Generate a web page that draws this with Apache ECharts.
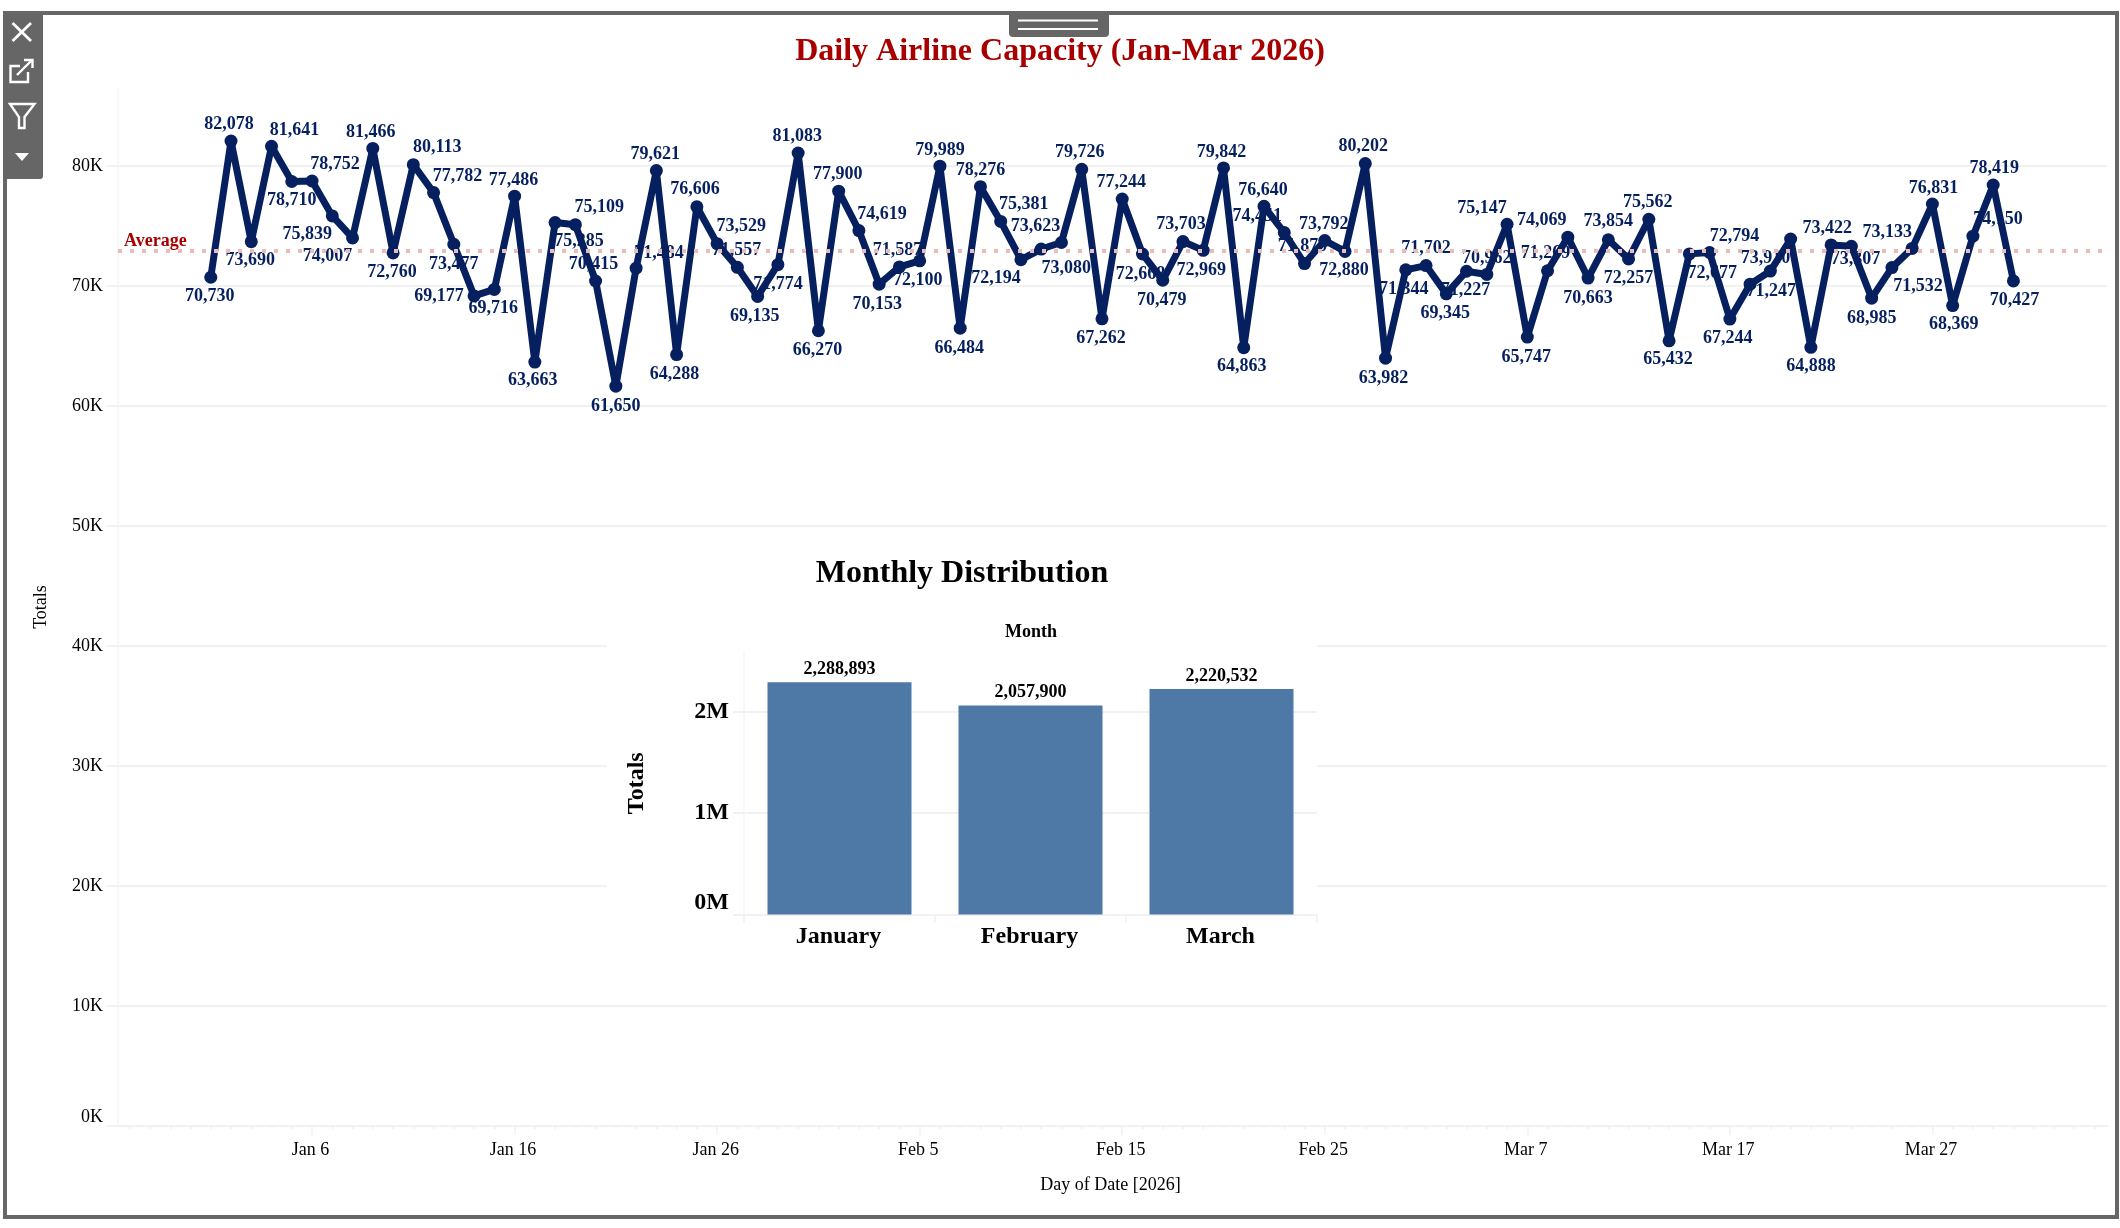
<!DOCTYPE html>
<html>
<head>
<meta charset="utf-8">
<style>html,body{margin:0;padding:0;background:#fff}#c{width:2120px;height:1228px}</style>
<script src="https://cdn.jsdelivr.net/npm/echarts@6/dist/echarts.min.js"></script>
</head>
<body>
<div id="c"></div>
<script>
// ---------- data ----------
const janValues = [70730,82078,73690,81641,78710,78752,75839,74007,81466,72760,80113,77782,73477,69177,69716,77486,63663,75285,75109,70415,61650,71484,79621,64288,76606,73529,71557,69135,71774,81083,66270];
const febValues = [77900,74619,70153,71587,72100,79989,66484,78276,75381,72194,73080,73623,79726,67262,77244,72668,70479,73703,72969,79842,64863,76640,74451,71870,73792,72880,80202,63982];
const marValues = [71344,71702,69345,71227,70962,75147,65747,71269,74069,70663,73854,72257,75562,65432,72677,72794,67244,70150,71247,73910,64888,73422,73307,68985,71532,73133,76831,68369,74150,78419,70427];
const unlabelledDays = ['2026-03-18'];
const monthNames = ['January','February','March'];
const monthTotals = [2288893,2057900,2220532];
const dateTickDays = ['2026-01-06','2026-01-16','2026-01-26','2026-02-05','2026-02-15','2026-02-25','2026-03-07','2026-03-17','2026-03-27'];
const dateTickLabels = ['Jan 6','Jan 16','Jan 26','Feb 5','Feb 15','Feb 25','Mar 7','Mar 17','Mar 27'];
const dailyTicks = [0,10000,20000,30000,40000,50000,60000,70000,80000];
const monthlyTicks = [0,1000000,2000000];

// ---------- layout table: label centre relative to its point, px ----------
const labelOffsets = [
[-1,19],[-2,-17],[-1,19],[23,-16],[0,19],[23,-17],[-25,18],[-25,18],[-2,-16],[-1,19],[24,-17],[24,-16],[0,20],[-35,0],[-1,19],[-1,-16],[-2,18],[24,19],[24,-17],[-2,-17],[0,20],[23,-15],[-1,-16],[-2,20],[-2,-17],[24,-17],[-1,-17],[-3,20],[0,20],[-1,-17],[-1,20],
[-1,-17],[23,-16],[-2,20],[-2,-17],[-2,20],[0,-16],[-1,20],[0,-16],[23,-17],[-25,19],[25,19],[-26,-16],[-2,-17],[-1,19],[-1,-17],[-2,20],[-1,20],[-2,-17],[-2,20],[-2,-16],[-2,19],[-1,-16],[-27,-16],[-2,-17],[-1,-16],[-1,19],[-2,-17],[-2,20],
[-2,19],[0,-17],[-1,19],[-1,19],[0,-16],[-25,-16],[-1,20],[-2,-17],[-26,-17],[0,20],[0,-18],[0,19],[-1,-17],[-1,19],[23,19],[25,-16],[-2,19],[0,0],[1,20],[-25,19],[0,19],[-4,-17],[4,13],[0,20],[26,19],[-25,-16],[1,-16],[1,19],[25,-17],[1,-17],[1,19]
];

// ---------- helpers ----------
const SERIF = '"Liberation Serif","Times New Roman",serif';
const NAVY = '#06205f', RED = '#a80000', GRID = '#f1f1f1';
const DAY = 86400000;
const dayNo = s => (Date.parse(s + 'T00:00:00Z') - Date.UTC(2026,0,1)) / DAY;
const pad = n => String(n).padStart(2,'0');
const seriesOf = (m, vals) => vals.map((v,i) => ['2026-' + pad(m) + '-' + pad(i+1), v]);
const daily = [].concat(seriesOf(1,janValues), seriesOf(2,febValues), seriesOf(3,marValues));
const axisMin = -4.58, axisMax = 93.62;
const dayTicks = [];
for (let t = -4; t <= axisMax; t += 1) dayTicks.push(t);
const majorTicks = dateTickDays.map(dayNo);
const fmt = v => v.toLocaleString('en-US');
const white = '#fff', chrome = '#666666';

const ink = {stroke: white, fill: 'none', lineWidth: 2.4};
const graphics = [
  {type:'rect', z:1, silent:true, shape:{x:607,y:532,width:710,height:420}, style:{fill:white}},
  {type:'rect', z:20, silent:true, shape:{x:5,y:13,width:2112,height:1204}, style:{fill:'none',stroke:chrome,lineWidth:4}},
  {type:'rect', z:21, silent:true, shape:{x:3,y:11,width:40,height:168,r:[0,0,3,0]}, style:{fill:chrome}},
  {type:'rect', z:21, silent:true, shape:{x:1009,y:11,width:100,height:26,r:[0,0,4,4]}, style:{fill:chrome}},
  {type:'line', z:22, silent:true, shape:{x1:1018,y1:20.5,x2:1098,y2:20.5}, style:{stroke:white,lineWidth:2}},
  {type:'line', z:22, silent:true, shape:{x1:1018,y1:29,x2:1098,y2:29}, style:{stroke:white,lineWidth:2}},
  {type:'line', z:22, silent:true, shape:{x1:12.5,y1:23,x2:31,y2:41}, style:{stroke:white,lineWidth:2.8}},
  {type:'line', z:22, silent:true, shape:{x1:31,y1:23,x2:12.5,y2:41}, style:{stroke:white,lineWidth:2.8}},
  {type:'polyline', z:22, silent:true, shape:{points:[[20,66],[10.5,66],[10.5,82],[28,82],[28,72]]}, style:ink},
  {type:'polyline', z:22, silent:true, shape:{points:[[17,75],[32,60]]}, style:ink},
  {type:'polyline', z:22, silent:true, shape:{points:[[24,60],[32.5,60],[32.5,68]]}, style:ink},
  {type:'polygon', z:22, silent:true, shape:{points:[[10,104],[34.5,104],[24.5,117],[24.5,128],[19,128],[19,117]]}, style:ink},
  {type:'polygon', z:22, silent:true, shape:{points:[[15,153],[29,153],[22,161]]}, style:{fill:white}}
];

const chart = echarts.init(document.getElementById('c'), null, {renderer:'canvas', width:2120, height:1228});
chart.setOption({
  animation:false,
  backgroundColor:'#ffffff',
  textStyle:{fontFamily:SERIF},
  title:[
    {text:'Daily Airline Capacity (Jan-Mar 2026)', left:1055, top:47, textAlign:'center', textVerticalAlign:'middle', textStyle:{fontFamily:SERIF,fontSize:32,fontWeight:'bold',color:RED}},
    {text:'Monthly Distribution', left:957, top:569, textAlign:'center', textVerticalAlign:'middle', textStyle:{fontFamily:SERIF,fontSize:32,fontWeight:'bold',color:'#000'}},
    {text:'Month', left:1026, top:627, textAlign:'center', textVerticalAlign:'middle', textStyle:{fontFamily:SERIF,fontSize:18,fontWeight:'bold',color:'#000'}}
  ],
  graphic:{elements:graphics},
  grid:[
    {left:118, right:13, top:88, bottom:102},
    {left:744, right:803, top:652, bottom:313.5}
  ],
  xAxis:[
    {type:'value', gridIndex:0, min:axisMin, max:axisMax, position:'bottom', z:0,
     name:'Day of Date [2026]', nameLocation:'middle', nameGap:50,
     nameTextStyle:{fontFamily:SERIF,fontSize:18,color:'#000',padding:[0,4,0,0]},
     axisLine:{show:true,onZero:false,lineStyle:{color:GRID,width:2}},
     axisTick:{show:true,customValues:majorTicks,length:9,lineStyle:{color:GRID,width:1.5}},
     axisLabel:{show:true,customValues:majorTicks,margin:15,hideOverlap:false,fontFamily:SERIF,fontSize:18,color:'#000',padding:[0,3,0,0],
       formatter:v => dateTickLabels[majorTicks.indexOf(v)] || ''},
     splitLine:{show:false}, minorTick:{show:false}},
    {type:'value', gridIndex:0, min:axisMin, max:axisMax, position:'bottom', z:0,
     axisLine:{show:false,onZero:false},
     axisTick:{show:true,customValues:dayTicks,length:3,lineStyle:{color:GRID,width:1.5}},
     axisLabel:{show:false}, splitLine:{show:false}},
    {type:'category', gridIndex:1, data:monthNames, position:'bottom', z:2,
     axisLine:{show:true,lineStyle:{color:GRID,width:2}},
     axisTick:{show:true,alignWithLabel:false,length:8,lineStyle:{color:GRID,width:1.5}},
     axisLabel:{show:true,interval:0,margin:10,fontFamily:SERIF,fontSize:24,fontWeight:'bold',color:'#000',padding:[0,2,0,0]},
     splitLine:{show:false}}
  ],
  yAxis:[
    {type:'value', gridIndex:0, min:0, max:86500, z:0,
     name:'Totals', nameLocation:'middle', nameGap:68, nameRotate:90,
     nameTextStyle:{fontFamily:SERIF,fontSize:18,color:'#000'},
     axisLine:{show:true,onZero:false,lineStyle:{color:'#f6f6f6',width:1.5}},
     axisTick:{show:true,customValues:dailyTicks,length:11,lineStyle:{color:GRID,width:2}},
     axisLabel:{show:true,customValues:dailyTicks,margin:15,fontFamily:SERIF,fontSize:18,color:'#000',
       verticalAlignMinLabel:'bottom', formatter:v => (v/1000)+'K'},
     splitLine:{show:true,lineStyle:{color:GRID,width:2}}},
    {type:'value', gridIndex:1, min:0, max:2586000, z:2,
     name:'Totals', nameLocation:'middle', nameGap:95, nameRotate:90,
     nameTextStyle:{fontFamily:SERIF,fontSize:24,fontWeight:'bold',color:'#000'},
     axisLine:{show:true,onZero:false,lineStyle:{color:'#f6f6f6',width:1.5}},
     axisTick:{show:true,customValues:monthlyTicks,length:11,lineStyle:{color:GRID,width:2}},
     axisLabel:{show:true,customValues:monthlyTicks,margin:15,fontFamily:SERIF,fontSize:24,fontWeight:'bold',color:'#000',
       verticalAlignMinLabel:'bottom', formatter:v => (v/1000000)+'M'},
     splitLine:{show:true,lineStyle:{color:GRID,width:2}}}
  ],
  series:[
    {type:'scatter', name:'Labels', xAxisIndex:0, yAxisIndex:0, z:1, symbolSize:1, silent:true,
     itemStyle:{color:'rgba(0,0,0,0)',opacity:1},
     data:daily.map((d,i) => ({
       value:[dayNo(d[0]), d[1]],
       label:{show:unlabelledDays.indexOf(d[0]) < 0, offset:labelOffsets[i]}
     })),
     label:{show:true,position:'inside',align:'center',verticalAlign:'middle',opacity:1,
       fontFamily:SERIF,fontSize:18,fontWeight:'bold',color:NAVY,
       formatter:p => fmt(p.value[1])},
     markLine:{silent:true,symbol:'none',animation:false,
       lineStyle:{color:'#e8bcb9',type:[4,8],width:4,opacity:1},
       label:{show:true,position:'insideStartTop',distance:[6,0],formatter:'Average',
         fontFamily:SERIF,fontSize:18,fontWeight:'bold',color:RED},
       data:[{type:'average',valueIndex:1}]}},
    {type:'line', name:'Capacity', xAxisIndex:0, yAxisIndex:0, z:3, silent:true,
     data:daily.map(d => [dayNo(d[0]), d[1]]),
     showSymbol:true, showAllSymbol:true, symbol:'circle', symbolSize:13,
     lineStyle:{color:NAVY,width:7}, itemStyle:{color:NAVY}, label:{show:false}},
    {type:'bar', name:'Monthly', xAxisIndex:2, yAxisIndex:1, z:3, silent:true,
     data:monthTotals, barWidth:144, itemStyle:{color:'#4e79a7'},
     label:{show:true,position:'top',distance:4,formatter:p => fmt(p.value),
       fontFamily:SERIF,fontSize:18,fontWeight:'bold',color:'#000'}}
  ]
});
</script>
</body>
</html>
